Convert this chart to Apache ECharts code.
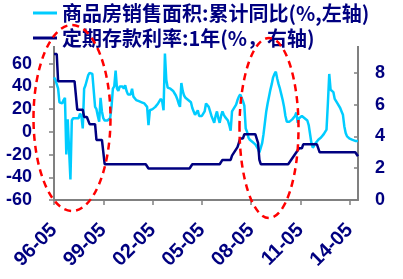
<!DOCTYPE html>
<html>
<head>
<meta charset="utf-8">
<script src="https://cdn.jsdelivr.net/npm/echarts@6/dist/echarts.min.js"></script>
<style>
html, body { margin: 0; padding: 0; background: #fff; }
#chart { width: 403px; height: 279px; }
</style>
</head>
<body>
<div id="chart"></div>
<script>
// =====================
// Data
// =====================
const SALES_NAME = "商品房销售面积:累计同比(%,左轴)"
const RATE_NAME = "定期存款利率:1年(%，右轴)"

// monthly, 1996-05 .. 2014-11
const START_YEAR = 1996
const START_MONTH = 5

// 商品房销售面积 累计同比 (%)
const salesYoy = [
  48, 46, 42, 38, 26, 27, 25, 28, 30, -20, 11, 10,
  -42, 10, 12, 11, 12, 11, 12, 16, 14, 3, 38, 41,
  42, 50, 52, 52, 51, 50, 22, 20, 14, 9, 30, 18,
  12, 10, 9, 10, 11, 12, 22, 38, 40, 54, 38, 36,
  40, 40, 40, 38, 41, 36, 33, 32, 33, 38, 31, 30,
  28, 28, 27, 27, 26, 25, 25, 24, 22, 6, 19, 20,
  20, 21, 22, 23, 25, 26, 29, 27, 19, 69, 46, 39,
  38, 38, 37, 36, 34, 32, 29, 25, 22, 43, 36, 32,
  30, 29, 28, 27, 26, 21, 18, 15, 16, 19, 14, 14,
  14, 13, 18, 25, 24, 22, 18, 14, 11, 8, 14, 18,
  12, 8, 14, 18, 15, 13, 12, 10, 6, 1, 18, 20,
  22, 24, 28, 31, 33, 30, 27, 23, 3, 0, -5, -7,
  -8, -9, -10, -11, -13, -15, -18, -19, -10, -2, 8, 18,
  25, 31, 37, 42, 48, 51, 53, 47, 42, 38, 33, 28,
  22, 14, 9, 8, 9, 10, 11, 12, 14, 17, 8, 12,
  13, 14, 13, 12, 12, 10, 6, 5, -10, -14, -12, -10,
  -9, -7, -6, -5, -4, -2, 0, 2, 25, 51, 37, 36,
  35, 29, 27, 25, 24, 21, 18, 15, 5, -1, -4, -5,
  -6, -6, -7, -7, -8, -8, -8
]

// 1年定期存款利率 (%)
const depositRate = [
  9.18, 9.18, 9.18, 7.47, 7.47, 7.47, 7.47, 7.47, 7.47, 7.47, 7.47, 7.47,
  7.47, 7.47, 7.47, 7.47, 7.47, 5.67, 5.67, 5.67, 5.67, 5.67, 5.22, 5.22,
  5.22, 5.22, 4.77, 4.77, 4.77, 4.77, 4.77, 3.78, 3.78, 3.78, 3.78, 3.78,
  3.78, 2.25, 2.25, 2.25, 2.25, 2.25, 2.25, 2.25, 2.25, 2.25, 2.25, 2.25,
  2.25, 2.25, 2.25, 2.25, 2.25, 2.25, 2.25, 2.25, 2.25, 2.25, 2.25, 2.25,
  2.25, 2.25, 2.25, 2.25, 2.25, 2.25, 2.25, 2.25, 2.25, 1.98, 1.98, 1.98,
  1.98, 1.98, 1.98, 1.98, 1.98, 1.98, 1.98, 1.98, 1.98, 1.98, 1.98, 1.98,
  1.98, 1.98, 1.98, 1.98, 1.98, 1.98, 1.98, 1.98, 1.98, 1.98, 1.98, 1.98,
  1.98, 1.98, 1.98, 1.98, 1.98, 2.25, 2.25, 2.25, 2.25, 2.25, 2.25, 2.25,
  2.25, 2.25, 2.25, 2.25, 2.25, 2.25, 2.25, 2.25, 2.25, 2.25, 2.25, 2.25,
  2.25, 2.25, 2.25, 2.52, 2.52, 2.52, 2.52, 2.52, 2.52, 2.52, 2.79, 2.79,
  3.06, 3.06, 3.33, 3.60, 3.87, 3.87, 3.87, 4.14, 4.14, 4.14, 4.14, 4.14,
  4.14, 4.14, 4.14, 4.14, 4.14, 3.60, 2.52, 2.25, 2.25, 2.25, 2.25, 2.25,
  2.25, 2.25, 2.25, 2.25, 2.25, 2.25, 2.25, 2.25, 2.25, 2.25, 2.25, 2.25,
  2.25, 2.25, 2.25, 2.25, 2.25, 2.50, 2.50, 2.75, 2.75, 3.00, 3.00, 3.25,
  3.25, 3.25, 3.50, 3.50, 3.50, 3.50, 3.50, 3.50, 3.50, 3.50, 3.50, 3.50,
  3.50, 3.25, 3.00, 3.00, 3.00, 3.00, 3.00, 3.00, 3.00, 3.00, 3.00, 3.00,
  3.00, 3.00, 3.00, 3.00, 3.00, 3.00, 3.00, 3.00, 3.00, 3.00, 3.00, 3.00,
  3.00, 3.00, 3.00, 3.00, 3.00, 3.00, 2.75
]

// month labels "96-05" ...
const months = []
for (let k = 0; k < salesYoy.length; k++) {
  const m = START_MONTH - 1 + k
  const y = START_YEAR + Math.floor(m / 12)
  const mm = (m % 12) + 1
  months.push(String(y).slice(2) + "-" + String(mm).padStart(2, "0"))
}

// =====================
// Styles
// =====================
const NAVY = "#000080"
const CYAN = "#00CCFF"
const GRAY = "#808080"
const FONT = "'Liberation Sans', Arial, 'Noto Sans CJK SC', sans-serif"

const labelStyle = {
  color: NAVY,
  fontFamily: FONT,
  fontWeight: "bold",
  fontSize: 18
}

const chart = echarts.init(document.getElementById("chart"))

const option = {
  animation: false,
  backgroundColor: "#fff",

  grid: { left: 54, right: 45, top: 41, bottom: 79 },

  legend: {
    orient: "vertical",
    left: 33,
    top: 2,
    padding: 0,
    itemGap: 3,
    itemWidth: 24,
    itemHeight: 3,
    z: 5,
    textStyle: {
      color: NAVY,
      fontFamily: "'Noto Sans CJK SC', 'Liberation Sans', sans-serif",
      fontWeight: "bold",
      fontSize: 20,
      lineHeight: 22
    },
    data: [
      { name: SALES_NAME, icon: "rect" },
      { name: RATE_NAME, icon: "rect" }
    ]
  },

  xAxis: {
    type: "category",
    data: months,
    boundaryGap: false,
    axisLine: { onZero: false, lineStyle: { color: GRAY, width: 2 } },
    axisTick: { interval: 35, length: 5, lineStyle: { color: GRAY, width: 1.5 } },
    axisLabel: { ...labelStyle, fontSize: 20, interval: 35, rotate: 45, margin: 27 },
    splitLine: { show: false }
  },

  yAxis: [
    {
      type: "value",
      min: -60,
      max: 80,
      interval: 20,
      position: "left",
      axisLine: { show: true, lineStyle: { color: GRAY, width: 2 } },
      axisTick: { show: true, length: 5, lineStyle: { color: GRAY, width: 1.5 } },
      axisLabel: { ...labelStyle, margin: 22 },
      splitLine: { show: false }
    },
    {
      type: "value",
      min: 0,
      max: 10,
      interval: 2,
      position: "right",
      axisLine: { show: true, lineStyle: { color: GRAY, width: 2 } },
      axisTick: { show: true, inside: true, length: 4, lineStyle: { color: GRAY, width: 1.5 } },
      axisLabel: { ...labelStyle, margin: 17 },
      splitLine: { show: false }
    }
  ],

  series: [
    {
      name: SALES_NAME,
      type: "line",
      yAxisIndex: 0,
      data: salesYoy,
      showSymbol: false,
      color: CYAN,
      lineStyle: { color: CYAN, width: 2.5 }
    },
    {
      name: RATE_NAME,
      type: "line",
      yAxisIndex: 1,
      data: depositRate,
      showSymbol: false,
      color: NAVY,
      lineStyle: { color: NAVY, width: 2.5 }
    }
  ],

  // white band under the legend + red dashed annotation ellipses
  graphic: [
    {
      type: "rect",
      z: 3,
      shape: { x: 0, y: 0, width: 403, height: 46 },
      style: { fill: "#fff" }
    },
    {
      type: "ellipse",
      z: 100,
      shape: { cx: 72, cy: 118, rx: 38.5, ry: 93 },
      style: { fill: null, stroke: "#FF0000", lineWidth: 2.5, lineDash: [7, 5] }
    },
    {
      type: "ellipse",
      z: 100,
      shape: { cx: 269, cy: 128, rx: 29.5, ry: 90 },
      style: { fill: null, stroke: "#FF0000", lineWidth: 2.5, lineDash: [7, 5] }
    }
  ]
}

chart.setOption(option)
</script>
</body>
</html>
